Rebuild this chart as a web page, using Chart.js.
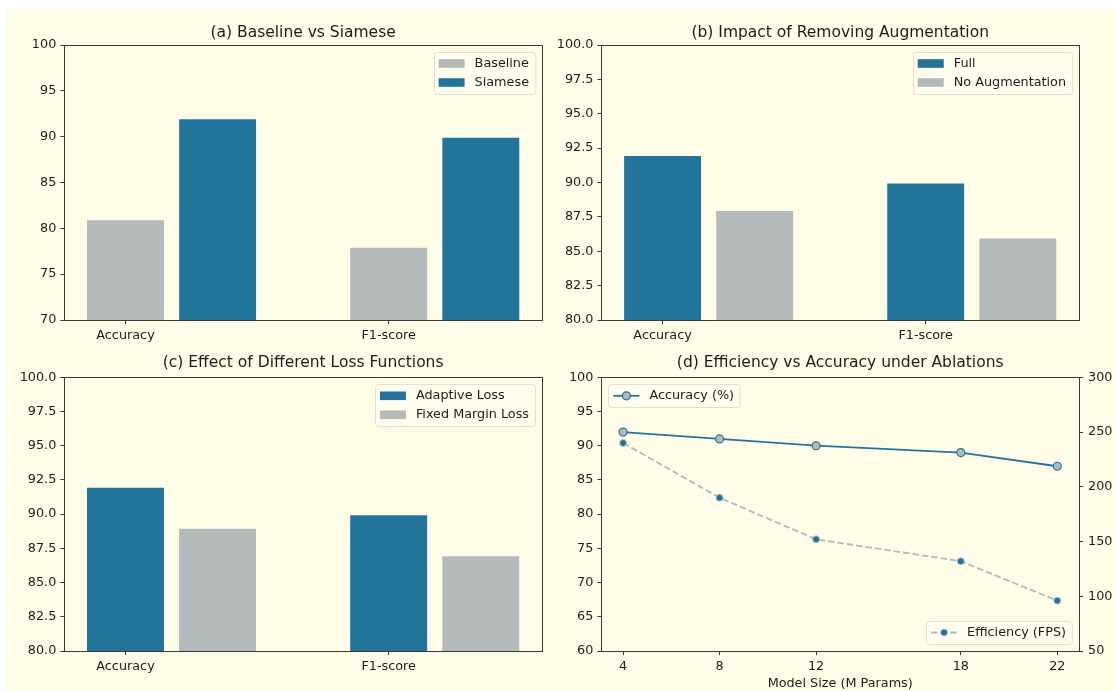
<!DOCTYPE html>
<html>
<head>
<meta charset="utf-8">
<title>Ablation results</title>
<script src="https://cdn.jsdelivr.net/npm/chart.js@4.4.1/dist/chart.umd.min.js"></script>
<style>
  html, body { margin: 0; padding: 0; background: #fff; }
  #fig { position: absolute; left: 6px; top: 8px; width: 1109px; height: 683px; background: #fffde8; }
  canvas { position: absolute; }
</style>
</head>
<body>
<div id="fig"></div>
<canvas id="chartA" width="550" height="337" style="left:6px;top:8px"></canvas>
<canvas id="chartB" width="559" height="337" style="left:556px;top:8px"></canvas>
<canvas id="chartC" width="550" height="346" style="left:6px;top:345px"></canvas>
<canvas id="chartD" width="559" height="346" style="left:556px;top:345px"></canvas>
<script>
'use strict';

// ── Данные ─────────────────────────────────────────────
const CATEGORIES   = ['Accuracy', 'F1-score'];
const BASELINE     = [81, 78];
const SIAMESE      = [92, 90];
const FULL         = [92, 90];
const NO_AUG       = [88, 86];
const ADAPTIVE     = [92, 90];
const FIXED_MARGIN = [89, 87];

const MODEL_SIZE     = [4, 8, 12, 18, 22];
const ACCURACY_PCT   = [92, 91, 90, 89, 87];
const EFFICIENCY_FPS = [240, 190, 152, 132, 96];

(function () {
  const FONT = '"DejaVu Sans", "Noto Sans", sans-serif';
  const TXT = '#1c1c1c';
  const SPINE = '#3a3a3a';
  const BLUE = '#23749b';
  const GREY = '#b4b9b9';
  const FS = 12.8;

  // бары как в matplotlib: x = i и i + 0.35, ширина 0.3
  const BAR_SHIFT = 0.35;
  const BAR_WIDTH = 0.3;

  Chart.defaults.font.family = FONT;
  Chart.defaults.font.size = FS;
  Chart.defaults.color = TXT;
  Chart.defaults.animation = false;

  // ── Рамка вокруг области графика (все 4 стороны) ─────
  const frame = {
    id: 'frame',
    afterDatasetsDraw(chart) {
      const { ctx, chartArea: a } = chart;
      const l = Math.round(a.left) + 0.5, t = Math.round(a.top) + 0.5;
      const r = Math.round(a.right) + 0.5, b = Math.round(a.bottom) + 0.5;
      ctx.save();
      ctx.strokeStyle = SPINE;
      ctx.lineWidth = 1;
      ctx.strokeRect(l, t, r - l, b - t);
      ctx.restore();
    },
  };

  // ── Легенда внутри осей, в стиле matplotlib ──────────
  const boxLegend = {
    id: 'boxLegend',
    afterDatasetsDraw(chart, args, opts) {
      if (!opts.groups) return;
      const ctx = chart.ctx;
      const area = chart.chartArea;
      opts.groups.forEach((g) => {
        const items = g.items.map((i) => chart.data.datasets[i]);
        ctx.save();
        ctx.font = FS + 'px ' + FONT;
        const textW = Math.max(...items.map((d) => ctx.measureText(d.label).width));
        const w = 5 + 26 + 10 + textW + 6;
        const h = items.length * 19 + 4;
        const x = g.corner.includes('r') ? area.right - 7 - w : area.left + 7;
        const y = g.corner.includes('b') ? area.bottom - 7 - h : area.top + 7;

        ctx.beginPath();
        if (ctx.roundRect) ctx.roundRect(Math.round(x) + 0.5, Math.round(y) + 0.5, w, h, 3);
        else ctx.rect(Math.round(x) + 0.5, Math.round(y) + 0.5, w, h);
        ctx.fillStyle = 'rgba(255,253,238,0.85)';
        ctx.fill();
        ctx.strokeStyle = '#eadbcd';
        ctx.lineWidth = 1;
        ctx.stroke();

        items.forEach((d, k) => {
          const cy = y + 11.5 + k * 19;
          const hx = x + 5;
          if (chart.config.type === 'line') {
            ctx.beginPath();
            ctx.setLineDash(d.borderDash || []);
            ctx.strokeStyle = d.borderColor;
            ctx.lineWidth = d.borderWidth;
            ctx.moveTo(hx, cy);
            ctx.lineTo(hx + 26, cy);
            ctx.stroke();
            ctx.setLineDash([]);
            ctx.beginPath();
            ctx.arc(hx + 13, cy, d.pointRadius, 0, Math.PI * 2);
            ctx.fillStyle = d.pointBackgroundColor;
            ctx.fill();
            ctx.strokeStyle = d.pointBorderColor;
            ctx.lineWidth = d.pointBorderWidth;
            ctx.stroke();
          } else {
            ctx.fillStyle = d.backgroundColor;
            ctx.fillRect(hx, cy - 4.3, 26, 8.6);
          }
          ctx.fillStyle = TXT;
          ctx.textBaseline = 'middle';
          ctx.textAlign = 'left';
          ctx.fillText(d.label, hx + 36, cy);
        });
        ctx.restore();
      });
    },
  };

  // ── Геометрия панелей ─────────────────────────────────
  const ROW_TOP    = { titlePad: { top: 15.2, bottom: 3.2 }, xAxisH: 25 };
  const ROW_BOTTOM = { titlePad: { top: 9.0,  bottom: 4.7 }, xAxisH: 40 };
  const COL_LEFT   = { yAxisW: 58.3, padRight: 14 };
  const COL_RIGHT  = { yAxisW: 45.4, padRight: 36 };

  function tickGrid() {
    return { display: true, drawOnChartArea: false, drawTicks: true, tickLength: 4, color: SPINE, lineWidth: 1 };
  }

  function titleOpts(text, row) {
    return {
      display: true,
      text,
      fullSize: false,
      color: TXT,
      font: { size: 15.5, weight: 'normal', family: FONT, lineHeight: 1.2 },
      padding: row.titlePad,
    };
  }

  function barSet(label, values, color, shift) {
    return {
      label,
      data: values.map((v, i) => ({ x: i + shift, y: v })),
      backgroundColor: color,
      borderColor: 'rgba(255,255,255,0.55)',
      borderWidth: 1,
    };
  }

  function makeBarChart(id, title, sets, yMin, yMax, yStep, decimals, row, col, corner) {
    new Chart(document.getElementById(id), {
      type: 'bar',
      data: { datasets: sets },
      options: {
        responsive: false,
        layout: { padding: { left: 0, right: col.padRight, top: 0, bottom: 0 } },
        datasets: { bar: { grouped: false, categoryPercentage: 1, barPercentage: BAR_WIDTH / BAR_SHIFT } },
        scales: {
          x: {
            type: 'linear',
            offset: false,
            min: -0.15 - 0.0825,
            max: 1.5 + 0.0825,
            border: { display: false },
            grid: Object.assign(tickGrid(), { offset: false }),
            afterBuildTicks: (s) => { s.ticks = CATEGORIES.map((c, i) => ({ value: i })); },
            afterFit: (s) => { s.height = row.xAxisH; },
            ticks: { padding: 4, maxRotation: 0, callback: (v, i) => CATEGORIES[i] },
          },
          y: {
            min: yMin,
            max: yMax,
            border: { display: false },
            grid: tickGrid(),
            afterFit: (s) => { s.width = col.yAxisW; },
            ticks: { stepSize: yStep, padding: 4, callback: (v) => v.toFixed(decimals) },
          },
        },
        plugins: {
          legend: { display: false },
          tooltip: { enabled: false },
          title: titleOpts(title, row),
          boxLegend: { groups: [{ corner, items: [0, 1] }] },
        },
      },
      plugins: [frame, boxLegend],
    });
  }

  // ── (a)–(c): столбчатые ───────────────────────────────
  makeBarChart('chartA', '(a) Baseline vs Siamese', [
    barSet('Baseline', BASELINE, GREY, 0),
    barSet('Siamese', SIAMESE, BLUE, BAR_SHIFT),
  ], 70, 100, 5, 0, ROW_TOP, COL_LEFT, 'tr');

  makeBarChart('chartB', '(b) Impact of Removing Augmentation', [
    barSet('Full', FULL, BLUE, 0),
    barSet('No Augmentation', NO_AUG, GREY, BAR_SHIFT),
  ], 80, 100, 2.5, 1, ROW_TOP, COL_RIGHT, 'tr');

  makeBarChart('chartC', '(c) Effect of Different Loss Functions', [
    barSet('Adaptive Loss', ADAPTIVE, BLUE, 0),
    barSet('Fixed Margin Loss', FIXED_MARGIN, GREY, BAR_SHIFT),
  ], 80, 100, 2.5, 1, ROW_BOTTOM, COL_LEFT, 'tr');

  // ── (d): две оси ──────────────────────────────────────
  new Chart(document.getElementById('chartD'), {
    type: 'line',
    data: {
      datasets: [
        {
          label: 'Accuracy (%)',
          data: MODEL_SIZE.map((m, i) => ({ x: m, y: ACCURACY_PCT[i] })),
          yAxisID: 'y',
          borderColor: BLUE,
          borderWidth: 1.8,
          pointRadius: 4,
          pointBackgroundColor: GREY,
          pointBorderColor: BLUE,
          pointBorderWidth: 1.2,
          tension: 0,
        },
        {
          label: 'Efficiency (FPS)',
          data: MODEL_SIZE.map((m, i) => ({ x: m, y: EFFICIENCY_FPS[i] })),
          yAxisID: 'y2',
          borderColor: GREY,
          borderWidth: 1.8,
          borderDash: [6.5, 3],
          pointRadius: 3.5,
          pointBackgroundColor: BLUE,
          pointBorderColor: '#b9c9cf',
          pointBorderWidth: 1,
          tension: 0,
        },
      ],
    },
    options: {
      responsive: false,
      layout: { padding: { left: 0, right: 0, top: 0, bottom: 0 } },
      scales: {
        x: {
          type: 'linear',
          min: 4 - 0.9,
          max: 22 + 0.9,
          border: { display: false },
          grid: tickGrid(),
          afterBuildTicks: (s) => { s.ticks = MODEL_SIZE.map((m) => ({ value: m })); },
          afterFit: (s) => { s.height = ROW_BOTTOM.xAxisH; },
          ticks: { padding: 4, maxRotation: 0, autoSkip: false, callback: (v) => String(v) },
          title: { display: true, text: 'Model Size (M Params)', color: TXT, font: { size: FS, lineHeight: 1.2 }, padding: { top: 0, bottom: 0 } },
        },
        y: {
          position: 'left',
          min: 60,
          max: 100,
          border: { display: false },
          grid: tickGrid(),
          afterFit: (s) => { s.width = COL_RIGHT.yAxisW; },
          ticks: { stepSize: 5, padding: 4 },
        },
        y2: {
          position: 'right',
          min: 50,
          max: 300,
          border: { display: false },
          grid: tickGrid(),
          afterFit: (s) => { s.width = COL_RIGHT.padRight; },
          ticks: { stepSize: 50, padding: 5 },
        },
      },
      plugins: {
        legend: { display: false },
        tooltip: { enabled: false },
        title: titleOpts('(d) Efficiency vs Accuracy under Ablations', ROW_BOTTOM),
        boxLegend: { groups: [{ corner: 'tl', items: [0] }, { corner: 'br', items: [1] }] },
      },
    },
    plugins: [frame, boxLegend],
  });
})();
</script>
</body>
</html>
